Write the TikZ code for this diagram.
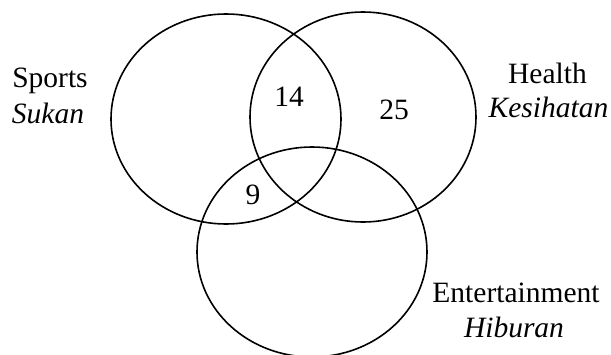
\documentclass[tikz,border=0pt]{standalone}
\usepackage{fontspec}
\setmainfont{Liberation Serif}
\usetikzlibrary{shapes.geometric}

\begin{document}
\begin{tikzpicture}[
  x=1pt, y=-1pt,
  font=\fontsize{29.5}{36}\selectfont,
  setring/.style={
    ellipse, draw=black, line width=1.6pt,
    minimum height=210pt, inner sep=0pt
  },
  setname/.style={anchor=base, inner sep=0pt},
  count/.style={inner sep=0pt}
]
\useasboundingbox (0,0) rectangle (611,354);

% the three sets
\node[setring, minimum width=230pt] (sports) at (226,119) {};
\node[setring, minimum width=226pt] (health) at (363,117) {};
\node[setring, minimum width=230pt] (ent) at (312,252) {};

% set names, English over Malay
\node[setname] (sportsen) at (50,87) {Sports};
\node[setname] (sportsms) at (48,123) {\textit{Sukan}};
\node[setname] (healthen) at (547.5,83) {Health};
\node[setname] (healthms) at (548.5,117) {\textit{Kesihatan}};
\node[setname] (enten) at (516,302) {Entertainment};
\node[setname] (entms) at (514,337) {\textit{Hiburan}};

% region counts
\node[count] (sh) at (289,97) {14};
\node[count] (honly) at (394,110) {25};
\node[count] (se) at (253,195) {9};

\end{tikzpicture}
\end{document}
